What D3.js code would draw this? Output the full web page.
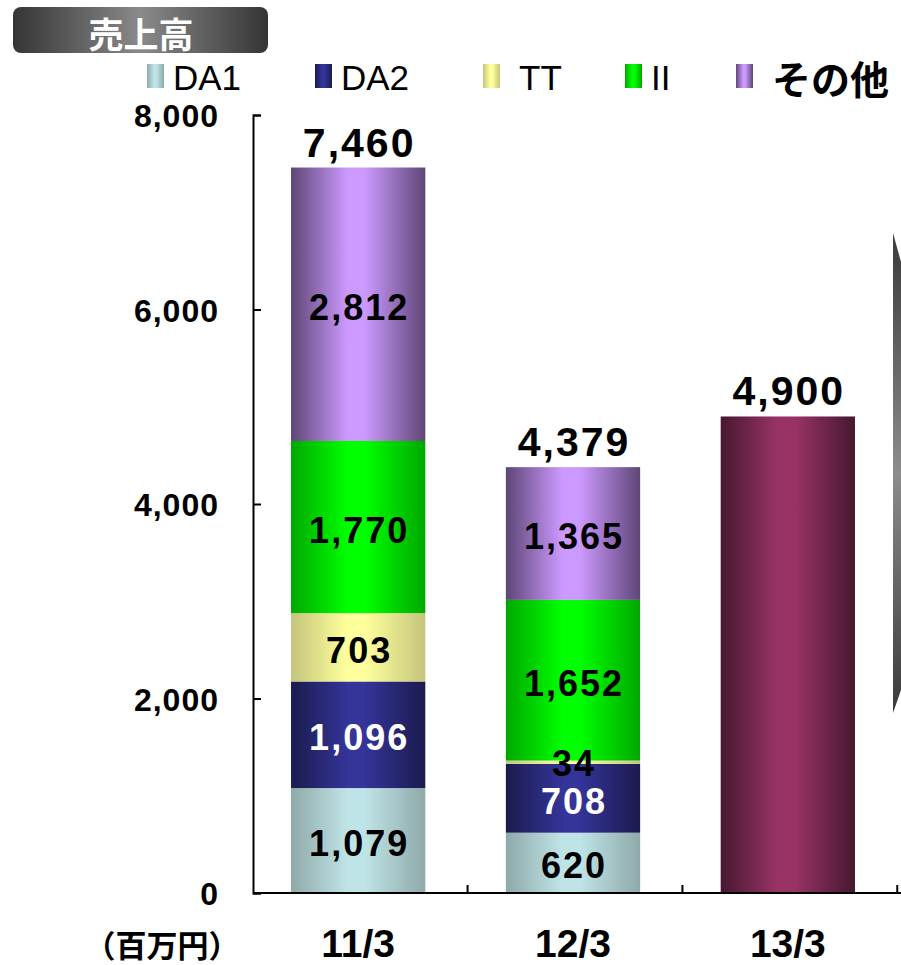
<!DOCTYPE html>
<html>
<head>
<meta charset="utf-8">
<script src="https://cdn.jsdelivr.net/npm/d3@7"></script>
<style>
  body { margin: 0; background: #fff; }
  svg { display: block; }
  .num { font-family: "Liberation Sans", Arial, sans-serif; font-weight: bold; }
  .jp { font-family: "Noto Sans CJK JP", sans-serif; font-weight: bold; }
</style>
</head>
<body>
<svg id="chart" width="901" height="965"></svg>
<script>
var categories = ["11/3", "12/3", "13/3"]
var seriesNames = ["DA1", "DA2", "TT", "II", "その他"]
var da1 = [1079, 620]
var da2 = [1096, 708]
var tt = [703, 34]
var ii = [1770, 1652]
var other = [2812, 1365]
var totals = [7460, 4379, 4900]
var yTicks = [0, 2000, 4000, 6000, 8000]

var svg = d3.select('#chart')
var fmt = d3.format(",")

// colours: [edge, centre] for each cylinder gradient
var colors = {
    "DA1": ["#8fa9a9", "#bfe4e7"],
    "DA2": ["#1b1b4e", "#343499"],
    "TT": ["#c4c47c", "#ffff9c"],
    "II": ["#00a800", "#00ff00"],
    "その他": ["#5e4676", "#cc99ff"],
    "forecast": ["#461830", "#993366"]
}
var labelColor = { "DA1": "#000", "DA2": "#fff", "TT": "#000", "II": "#000", "その他": "#000" }

var defs = svg.append("defs")
Object.keys(colors).forEach(function (k, i) {
    var g = defs.append("linearGradient")
        .attr("id", "grad" + i)
        .attr("x1", "0%").attr("x2", "100%").attr("y1", "0%").attr("y2", "0%")
    g.append("stop").attr("offset", "0%").attr("stop-color", colors[k][0])
    g.append("stop").attr("offset", "42%").attr("stop-color", colors[k][1])
    g.append("stop").attr("offset", "55%").attr("stop-color", colors[k][1])
    g.append("stop").attr("offset", "100%").attr("stop-color", colors[k][0])
    colors[k].id = "url(#grad" + i + ")"
})

var tg = defs.append("linearGradient").attr("id", "titleGrad")
    .attr("x1", "0%").attr("x2", "100%")
tg.append("stop").attr("offset", "0%").attr("stop-color", "#353535")
tg.append("stop").attr("offset", "50%").attr("stop-color", "#8a8a8a")
tg.append("stop").attr("offset", "100%").attr("stop-color", "#353535")

var sg = defs.append("linearGradient").attr("id", "sideGrad")
    .attr("x1", "0%").attr("x2", "0%").attr("y1", "0%").attr("y2", "100%")
sg.append("stop").attr("offset", "0%").attr("stop-color", "#3a3a3a")
sg.append("stop").attr("offset", "50%").attr("stop-color", "#8c8c8c")
sg.append("stop").attr("offset", "100%").attr("stop-color", "#3a3a3a")

var x = d3.scaleBand()
    .domain(categories)
    .range([253, 893])
    .paddingInner(0.375)
    .paddingOuter(0.177)

var y = d3.scaleLinear()
    .domain([0, 8000])
    .range([893, 115])

// title box
svg.append("rect")
    .attr("x", 13).attr("y", 7)
    .attr("width", 255).attr("height", 46)
    .attr("rx", 8)
    .style("fill", "url(#titleGrad)")
svg.append("text")
    .attr("class", "jp")
    .attr("x", 141).attr("y", 32)
    .attr("text-anchor", "middle")
    .attr("dominant-baseline", "central")
    .style("font-size", "35px")
    .style("fill", "#fff")
    .text("売上高")

// legend
var legendX = [147, 315, 483, 625, 736]
var legend = svg.selectAll(".legend")
    .data(seriesNames)
    .enter()
    .append("g")
    .attr("class", "legend")
    .attr("transform", function (d, i) { return "translate(" + legendX[i] + ",0)" })
legend.append("rect")
    .attr("x", 0).attr("y", 64)
    .attr("width", 17).attr("height", 24)
    .style("fill", function (d) { return colors[d].id })
legend.append("text")
    .attr("class", function (d) { return d == "その他" ? "jp" : "num" })
    .attr("x", function (d) { return d == "その他" ? 36 : (d == "TT" ? 36 : 26) })
    .attr("y", 77)
    .attr("dominant-baseline", "central")
    .style("font-size", function (d) { return d == "その他" ? "39px" : "35px" })
    .style("font-weight", function (d) { return d == "その他" ? "bold" : "normal" })
    .style("fill", "#000")
    .text(function (d) { return d })

// stacked bars
var stackData = categories.slice(0, 2).map(function (c, i) {
    return { cat: c, "DA1": da1[i], "DA2": da2[i], "TT": tt[i], "II": ii[i], "その他": other[i] }
})
var stack = d3.stack().keys(seriesNames)(stackData)

var segs = []
stack.forEach(function (layer) {
    layer.forEach(function (p) {
        segs.push({ key: layer.key, cat: p.data.cat, y0: p[0], y1: p[1] })
    })
})

svg.selectAll(".seg")
    .data(segs)
    .enter()
    .append("rect")
    .attr("class", "seg")
    .attr("x", function (d) { return x(d.cat) })
    .attr("width", x.bandwidth())
    .attr("y", function (d) { return y(d.y1) })
    .attr("height", function (d) { return y(d.y0) - y(d.y1) })
    .style("fill", function (d) { return colors[d.key].id })

// forecast bar
svg.append("rect")
    .attr("x", x(categories[2]))
    .attr("width", x.bandwidth())
    .attr("y", y(totals[2]))
    .attr("height", y(0) - y(totals[2]))
    .style("fill", colors["forecast"].id)

// segment labels (the thin TT slice label sits a bit higher)
svg.selectAll(".segLabel")
    .data(segs)
    .enter()
    .append("text")
    .attr("class", "num segLabel")
    .attr("x", function (d) { return x(d.cat) + x.bandwidth() / 2 + 1 })
    .attr("y", function (d) {
        var mid = (y(d.y0) + y(d.y1)) / 2 + 3
        return (y(d.y0) - y(d.y1) < 10) ? mid - 2 : mid
    })
    .attr("text-anchor", "middle")
    .attr("dominant-baseline", "central")
    .style("font-size", "36px")
    .style("letter-spacing", "2px")
    .style("fill", function (d) { return labelColor[d.key] })
    .text(function (d) { return fmt(d.y1 - d.y0) })

// total labels
svg.selectAll(".total")
    .data(totals)
    .enter()
    .append("text")
    .attr("class", "num total")
    .attr("x", function (d, i) { return x(categories[i]) + x.bandwidth() / 2 + 1 })
    .attr("y", function (d) { return y(d) - 11 })
    .attr("text-anchor", "middle")
    .style("font-size", "41px")
    .style("letter-spacing", "2px")
    .style("fill", "#000")
    .text(function (d) { return fmt(d) })

// y axis
var yAxis = d3.axisLeft(y)
    .tickValues(yTicks)
    .tickSize(-8)
    .tickPadding(34)
    .tickFormat(fmt)
var gy = svg.append("g")
    .attr("transform", "translate(253,0)")
    .call(yAxis)
gy.select(".domain").attr("stroke", "#000").attr("stroke-width", 2)
gy.selectAll(".tick line").attr("stroke", "#000").attr("stroke-width", 2)
gy.selectAll(".tick text")
    .attr("class", "num")
    .style("font-size", "32px")
    .style("letter-spacing", "1px")
    .attr("dy", "0.36em")
    .style("fill", "#000")

// x axis
var xAxis = d3.axisBottom(x)
    .tickSize(0)
    .tickPadding(36)
var gx = svg.append("g")
    .attr("transform", "translate(0,893)")
    .call(xAxis)
gx.select(".domain").attr("d", "M253,0H901").attr("stroke", "#000").attr("stroke-width", 2)
gx.selectAll(".tick text")
    .attr("class", "num")
    .style("font-size", "39px")
    .style("fill", "#000")

svg.selectAll(".xsep")
    .data(categories)
    .enter()
    .append("line")
    .attr("class", "xsep")
    .attr("x1", function (d) { return x(d) + x.bandwidth() + x.step() * x.paddingInner() / 2 + 2 })
    .attr("x2", function (d) { return x(d) + x.bandwidth() + x.step() * x.paddingInner() / 2 + 2 })
    .attr("y1", 893)
    .attr("y2", 885)
    .attr("stroke", "#000")
    .attr("stroke-width", 2)

svg.append("text")
    .attr("class", "jp")
    .attr("x", 162).attr("y", 943)
    .attr("text-anchor", "middle")
    .attr("dominant-baseline", "central")
    .style("font-size", "31px")
    .style("fill", "#000")
    .text("（百万円）")

// decorative side shape
svg.append("polygon")
    .attr("points", "893,233 901,262 901,690 893,713")
    .style("fill", "url(#sideGrad)")
</script>
</body>
</html>
